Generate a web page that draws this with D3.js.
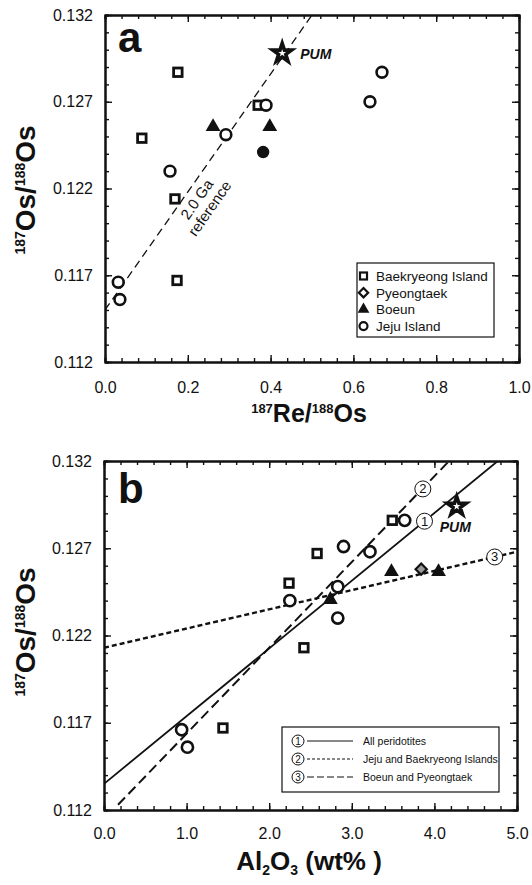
<!DOCTYPE html>
<html>
<head>
<meta charset="utf-8">
<script src="https://cdn.jsdelivr.net/npm/d3@7"></script>
<style>
body { margin: 0; background: #fff; }
text { font-family: "Liberation Sans", Arial, sans-serif; fill: #111; }
</style>
</head>
<body>
<svg id="chart" width="532" height="885"></svg>
<script>
// ---- panel a data: [187Re/188Os, 187Os/188Os]
const baekA = [[0.176, 0.1287], [0.089, 0.1249], [0.169, 0.1214], [0.174, 0.1167], [0.370, 0.1268]];
const jejuA = [[0.032, 0.1166], [0.036, 0.1156], [0.157, 0.1230], [0.292, 0.1251], [0.389, 0.1268], [0.640, 0.1270], [0.669, 0.1287]];
const boeunA = [[0.261, 0.1255], [0.398, 0.1255]];
const darkA = [[0.382, 0.1241]];
const pumA = [0.428, 0.1298];
const refLineA = [[0, 0.115], [0.5, 0.132]];

// ---- panel b data: [Al2O3 wt%, 187Os/188Os]
const baekB = [[3.49, 0.1286], [2.58, 0.1267], [2.24, 0.1250], [2.42, 0.1213], [1.44, 0.1167]];
const jejuB = [[3.64, 0.1286], [2.90, 0.1271], [3.22, 0.1268], [2.25, 0.1240], [2.83, 0.1248], [2.83, 0.1230], [0.94, 0.1166], [1.01, 0.1156]];
const boeunB = [[3.48, 0.1256], [4.05, 0.1256], [2.74, 0.1240]];
const pyeongB = [[3.84, 0.1258]];
const pumB = [4.27, 0.1294];
const fit1 = [[0, 0.1135], [5, 0.1329]];
const fit2 = [[0.17, 0.1123], [4.3, 0.1326]];
const fit3 = [[0, 0.1213], [5, 0.1268]];
const fitMarks = [[1, 3.88, 0.12855], [2, 3.86, 0.1304], [3, 4.73, 0.1265]];

// ---- axes
const yMajor = [0.112, 0.117, 0.122, 0.127, 0.132];
const yMinor = d3.range(0.112, 0.1325, 0.001);
const xMajorA = [0, 0.2, 0.4, 0.6, 0.8, 1.0];
const xMinorA = d3.range(0, 1.001, 0.04);
const xMajorB = [0, 1, 2, 3, 4, 5];
const xMinorB = d3.range(0, 5.001, 0.2);

const legendA = ["Baekryeong Island", "Pyeongtaek", "Boeun", "Jeju Island"];
const legendB = ["All peridotites", "Jeju and Baekryeong Islands", "Boeun and Pyeongtaek"];

const svg = d3.select("#chart");

function frame(g, x, y, w, h, xMajor, xMinor, xPad) {
    g.append("g").attr("transform", "translate(0," + h + ")")
        .call(d3.axisBottom(x).tickValues(xMinor).tickSize(-4).tickFormat(""));
    g.append("g").call(d3.axisTop(x).tickValues(xMinor).tickSize(-4).tickFormat(""));
    g.append("g").call(d3.axisLeft(y).tickValues(yMinor).tickSize(-4).tickFormat(""));
    g.append("g").attr("transform", "translate(" + w + ",0)")
        .call(d3.axisRight(y).tickValues(yMinor).tickSize(-4).tickFormat(""));

    g.append("g").attr("transform", "translate(0," + h + ")")
        .call(d3.axisBottom(x).tickValues(xMajor).tickSize(-7).tickSizeOuter(0)
            .tickPadding(xPad).tickFormat(d3.format(".1f")));
    g.append("g").call(d3.axisTop(x).tickValues(xMajor).tickSize(-7).tickSizeOuter(0).tickFormat(""));
    g.append("g").call(d3.axisLeft(y).tickValues(yMajor).tickSize(-7).tickSizeOuter(0)
        .tickPadding(12).tickFormat(d3.format(".3f")));
    g.append("g").attr("transform", "translate(" + w + ",0)")
        .call(d3.axisRight(y).tickValues(yMajor).tickSize(-7).tickSizeOuter(0).tickFormat(""));

    g.selectAll(".domain").attr("stroke", "#111").attr("stroke-width", 2);
    g.selectAll(".tick line").attr("stroke", "#111").attr("stroke-width", 1.4);
    g.selectAll(".tick text").attr("font-size", "16px").attr("fill", "#111")
        .style("font-family", "'Liberation Sans', Arial, sans-serif");
}

function yTitle(x, y) {
    const t = svg.append("text")
        .attr("transform", "translate(" + x + "," + y + ") rotate(-90)")
        .attr("text-anchor", "middle").attr("font-weight", "bold").attr("font-size", "28px");
    t.append("tspan").attr("font-size", "14px").attr("dy", "-10").text("187");
    t.append("tspan").attr("dy", "10").text("Os/");
    t.append("tspan").attr("font-size", "14px").attr("dy", "-10").text("188");
    t.append("tspan").attr("dy", "10").text("Os");
}

function squares(g, x, y, data, s) {
    g.selectAll(null).data(data).enter().append("rect")
        .attr("x", d => x(d[0]) - s / 2).attr("y", d => y(d[1]) - s / 2)
        .attr("width", s).attr("height", s)
        .attr("fill", "#fff").attr("stroke", "#111").attr("stroke-width", 2.8);
}
function circles(g, x, y, data, r) {
    g.selectAll(null).data(data).enter().append("circle")
        .attr("cx", d => x(d[0])).attr("cy", d => y(d[1])).attr("r", r)
        .attr("fill", "#fff").attr("stroke", "#111").attr("stroke-width", 2.6);
}
function triangles(g, x, y, data, size) {
    g.selectAll(null).data(data).enter().append("path")
        .attr("d", d3.symbol(d3.symbolTriangle, size))
        .attr("transform", d => "translate(" + x(d[0]) + "," + (y(d[1]) - 1) + ")")
        .attr("fill", "#111");
}
function star(g, x, y, p) {
    g.append("path")
        .attr("d", d3.symbol(d3.symbolStar, 110))
        .attr("transform", "translate(" + x(p[0]) + "," + y(p[1]) + ")")
        .attr("fill", "#fff").attr("stroke", "#111").attr("stroke-width", 3.6)
        .attr("stroke-linejoin", "miter");
}

// ================= panel a
{
    const left = 105, top = 15, w = 414, h = 347;
    const g = svg.append("g").attr("transform", "translate(" + left + "," + top + ")");
    const x = d3.scaleLinear().domain([0, 1]).range([0, w]);
    const y = d3.scaleLinear().domain([0.112, 0.132]).range([h, 0]);

    g.append("clipPath").attr("id", "clipA").append("rect").attr("width", w).attr("height", h);

    g.append("path").datum(refLineA).attr("clip-path", "url(#clipA)")
        .attr("d", d3.line().x(d => x(d[0])).y(d => y(d[1])))
        .attr("fill", "none").attr("stroke", "#111").attr("stroke-width", 1.3)
        .attr("stroke-dasharray", "8,5");

    // rotated note along the reference line
    const note = g.append("text")
        .attr("transform", "translate(" + x(0.232) + "," + y(0.1212) + ") rotate(-55)")
        .attr("text-anchor", "middle").attr("font-size", "15px");
    note.append("tspan").attr("x", 0).attr("dy", 0).text("2.0 Ga");
    note.append("tspan").attr("x", 0).attr("dy", "1.05em").text("reference");

    frame(g, x, y, w, h, xMajorA, xMinorA, 20);

    squares(g, x, y, baekA, 8.5);
    circles(g, x, y, jejuA, 5.4);
    triangles(g, x, y, boeunA, 95);
    g.selectAll(null).data(darkA).enter().append("circle")
        .attr("cx", d => x(d[0])).attr("cy", d => y(d[1])).attr("r", 6.2).attr("fill", "#111");
    star(g, x, y, pumA);
    g.append("text").attr("x", x(pumA[0]) + 18).attr("y", y(pumA[1]) + 6)
        .attr("font-size", "14px").attr("font-weight", "bold").attr("font-style", "italic").text("PUM");

    g.append("text").attr("x", 13).attr("y", 37).attr("font-size", "42px").attr("font-weight", "bold").text("a");

    // legend
    const lg = g.append("g").attr("transform", "translate(" + (357 - left) + "," + (263 - top) + ")");
    lg.append("rect").attr("width", 137).attr("height", 74)
        .attr("fill", "#fff").attr("stroke", "#111").attr("stroke-width", 1.2);
    const rowsA = lg.selectAll(null).data(legendA).enter().append("g")
        .attr("transform", (d, i) => "translate(0," + (13 + i * 16.7) + ")");
    rowsA.append("text").attr("x", 19).attr("y", 5).attr("font-size", "13.5px").text(d => d);
    rowsA.filter((d, i) => i === 0).append("rect").attr("x", 3).attr("y", -3.5).attr("width", 7).attr("height", 7)
        .attr("fill", "#fff").attr("stroke", "#111").attr("stroke-width", 2.2);
    rowsA.filter((d, i) => i === 1).append("path").attr("transform", "translate(6.5,0)")
        .attr("d", d3.symbol(d3.symbolDiamond2, 55))
        .attr("fill", "#fff").attr("stroke", "#111").attr("stroke-width", 2.2);
    rowsA.filter((d, i) => i === 2).append("path").attr("transform", "translate(6.5,0)")
        .attr("d", d3.symbol(d3.symbolTriangle, 60)).attr("fill", "#111");
    rowsA.filter((d, i) => i === 3).append("circle").attr("cx", 6.5).attr("r", 4)
        .attr("fill", "#fff").attr("stroke", "#111").attr("stroke-width", 2.2);

    yTitle(35, 190);
    const xt = svg.append("text").attr("x", 309).attr("y", 422)
        .attr("text-anchor", "middle").attr("font-weight", "bold").attr("font-size", "25px");
    xt.append("tspan").attr("font-size", "13px").attr("dy", "-9").text("187");
    xt.append("tspan").attr("dy", "9").text("Re/");
    xt.append("tspan").attr("font-size", "13px").attr("dy", "-9").text("188");
    xt.append("tspan").attr("dy", "9").text("Os");
}

// ================= panel b
{
    const left = 104, top = 461, w = 413, h = 349;
    const g = svg.append("g").attr("transform", "translate(" + left + "," + top + ")");
    const x = d3.scaleLinear().domain([0, 5]).range([0, w]);
    const y = d3.scaleLinear().domain([0.112, 0.132]).range([h, 0]);
    const line = d3.line().x(d => x(d[0])).y(d => y(d[1]));

    g.append("clipPath").attr("id", "clipB").append("rect").attr("width", w).attr("height", h);

    g.append("path").datum(fit1).attr("clip-path", "url(#clipB)").attr("d", line)
        .attr("fill", "none").attr("stroke", "#111").attr("stroke-width", 1.8);
    g.append("path").datum(fit2).attr("clip-path", "url(#clipB)").attr("d", line)
        .attr("fill", "none").attr("stroke", "#111").attr("stroke-width", 2)
        .attr("stroke-dasharray", "10,5");
    g.append("path").datum(fit3).attr("clip-path", "url(#clipB)").attr("d", line)
        .attr("fill", "none").attr("stroke", "#111").attr("stroke-width", 2.4)
        .attr("stroke-dasharray", "5,3");

    frame(g, x, y, w, h, xMajorB, xMinorB, 18);

    squares(g, x, y, baekB, 8.5);
    circles(g, x, y, jejuB, 5.6);
    triangles(g, x, y, boeunB, 95);
    g.selectAll(null).data(pyeongB).enter().append("path")
        .attr("d", d3.symbol(d3.symbolDiamond2, 80))
        .attr("transform", d => "translate(" + x(d[0]) + "," + y(d[1]) + ")")
        .attr("fill", "#999").attr("stroke", "#111").attr("stroke-width", 2.2);
    star(g, x, y, pumB);
    g.append("text").attr("x", x(pumB[0]) - 17).attr("y", y(pumB[1]) + 26)
        .attr("font-size", "14px").attr("font-weight", "bold").attr("font-style", "italic").text("PUM");

    const marks = g.selectAll(null).data(fitMarks).enter().append("g")
        .attr("transform", d => "translate(" + x(d[1]) + "," + y(d[2]) + ")");
    marks.append("circle").attr("r", 8).attr("fill", "#fff").attr("stroke", "#111").attr("stroke-width", 1);
    marks.append("text").attr("y", 4.5).attr("text-anchor", "middle").attr("font-size", "13px").text(d => d[0]);

    g.append("text").attr("x", 14).attr("y", 42).attr("font-size", "42px").attr("font-weight", "bold").text("b");

    // legend
    const lg = g.append("g").attr("transform", "translate(" + (282 - left) + "," + (727 - top) + ")");
    lg.append("rect").attr("width", 217).attr("height", 65)
        .attr("fill", "#fff").attr("stroke", "#111").attr("stroke-width", 1.2);
    const dashes = [null, "3,2", "7,3"];
    const rowsB = lg.selectAll(null).data(legendB).enter().append("g")
        .attr("transform", (d, i) => "translate(0," + (14 + i * 18) + ")");
    rowsB.append("circle").attr("cx", 16).attr("r", 6).attr("fill", "#fff").attr("stroke", "#111").attr("stroke-width", 1);
    rowsB.append("text").attr("x", 16).attr("y", 3.5).attr("text-anchor", "middle").attr("font-size", "10px")
        .text((d, i) => i + 1);
    rowsB.append("line").attr("x1", 25).attr("x2", 71).attr("stroke", "#111").attr("stroke-width", 1.2)
        .attr("stroke-dasharray", (d, i) => dashes[i]);
    rowsB.append("text").attr("x", 81).attr("y", 3.5).attr("font-size", "10.5px").text(d => d);

    yTitle(35, 632);
    const xt = svg.append("text").attr("x", 309).attr("y", 870)
        .attr("text-anchor", "middle").attr("font-weight", "bold").attr("font-size", "26px");
    xt.append("tspan").text("Al");
    xt.append("tspan").attr("font-size", "14px").attr("dy", "5").text("2");
    xt.append("tspan").attr("dy", "-5").text("O");
    xt.append("tspan").attr("font-size", "14px").attr("dy", "5").text("3");
    xt.append("tspan").attr("dy", "-5").text(" (wt% )");
}
</script>
</body>
</html>
